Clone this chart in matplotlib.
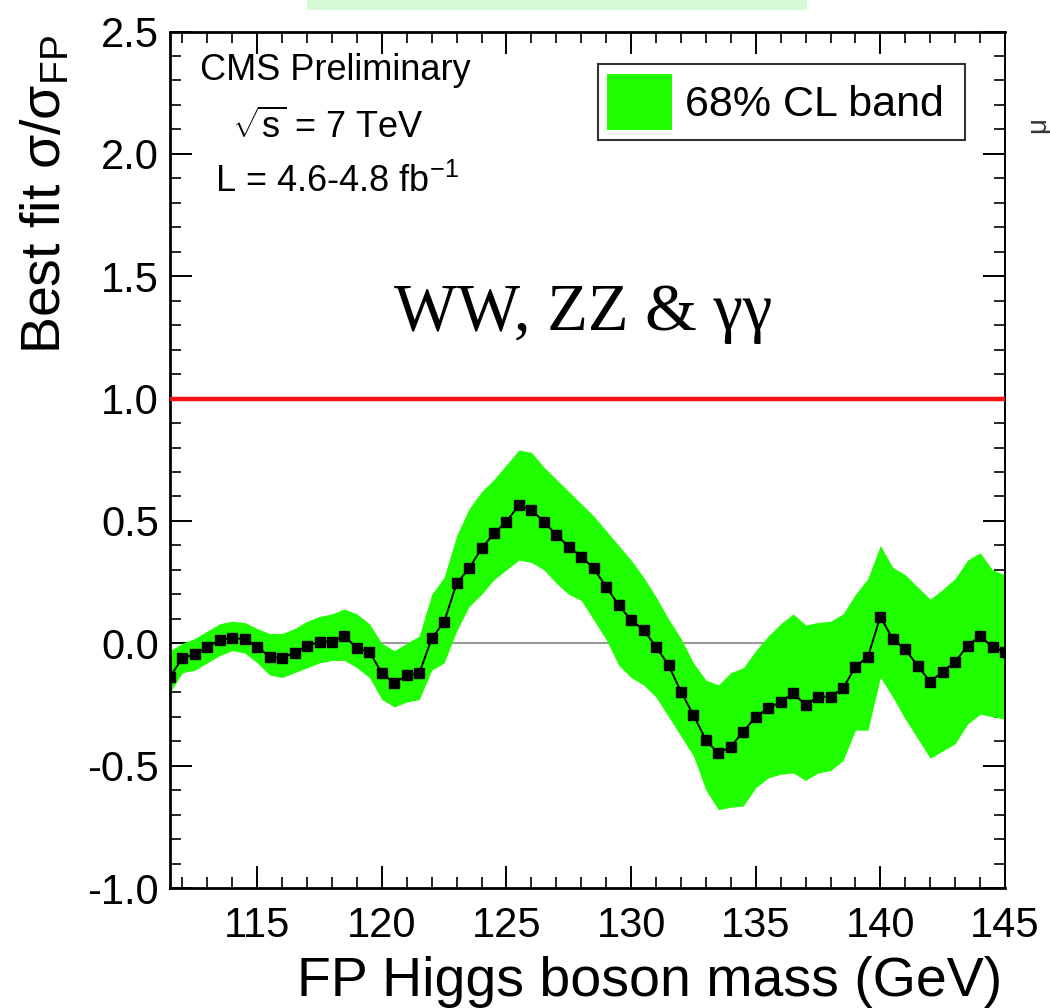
import numpy as np
import matplotlib
matplotlib.use("Agg")
import matplotlib.pyplot as plt
from matplotlib.patches import Patch, Rectangle
from matplotlib.ticker import MultipleLocator, FormatStrFormatter

plt.rcParams['font.family'] = ['Liberation Sans', 'DejaVu Sans']
plt.rcParams['mathtext.fontset'] = 'custom'
plt.rcParams['mathtext.rm'] = 'Liberation Sans'
plt.rcParams['mathtext.it'] = 'Liberation Sans:italic'
plt.rcParams['mathtext.bf'] = 'Liberation Sans:bold'
plt.rcParams['axes.unicode_minus'] = False

# FP Higgs mass points (GeV)
mass = [111.5, 112.0, 112.5, 113.0, 113.5, 114.0, 114.5, 115.0, 115.5, 116.0,
        116.5, 117.0, 117.5, 118.0, 118.5, 119.0, 119.5, 120.0, 120.5, 121.0,
        121.5, 122.0, 122.5, 123.0, 123.5, 124.0, 124.5, 125.0, 125.5, 126.0,
        126.5, 127.0, 127.5, 128.0, 128.5, 129.0, 129.5, 130.0, 130.5, 131.0,
        131.5, 132.0, 132.5, 133.0, 133.5, 134.0, 134.5, 135.0, 135.5, 136.0,
        136.5, 137.0, 137.5, 138.0, 138.5, 139.0, 139.5, 140.0, 140.5, 141.0,
        141.5, 142.0, 142.5, 143.0, 143.5, 144.0, 144.5, 145.0]

# best fit sigma/sigma_FP
best_fit = [-0.136, -0.061, -0.045, -0.014, 0.013, 0.023, 0.016, -0.014, -0.055, -0.059,
            -0.038, -0.011, 0.007, 0.007, 0.030, -0.020, -0.034, -0.123, -0.163, -0.130,
            -0.123, 0.020, 0.088, 0.245, 0.306, 0.388, 0.449, 0.497, 0.565, 0.545,
            0.497, 0.443, 0.395, 0.354, 0.306, 0.231, 0.156, 0.095, 0.054, -0.014,
            -0.089, -0.198, -0.293, -0.395, -0.450, -0.422, -0.361, -0.300, -0.266, -0.239,
            -0.204, -0.252, -0.218, -0.218, -0.184, -0.096, -0.055, 0.109, 0.016, -0.024,
            -0.093, -0.157, -0.116, -0.075, -0.011, 0.030, -0.016, -0.034]

# 68% CL band edges
band_hi = [-0.03, 0.00, 0.02, 0.05, 0.08, 0.09, 0.085, 0.06, 0.04, 0.04,
           0.06, 0.09, 0.11, 0.12, 0.14, 0.12, 0.08, 0.00, -0.03, 0.00,
           0.03, 0.20, 0.27, 0.44, 0.55, 0.62, 0.67, 0.73, 0.79, 0.78,
           0.72, 0.67, 0.62, 0.57, 0.52, 0.46, 0.40, 0.34, 0.27, 0.19,
           0.10, 0.02, -0.08, -0.15, -0.17, -0.12, -0.10, -0.03, 0.03, 0.08,
           0.12, 0.075, 0.085, 0.09, 0.12, 0.20, 0.265, 0.40, 0.31, 0.28,
           0.23, 0.18, 0.22, 0.265, 0.34, 0.37, 0.30, 0.28]
band_lo = [-0.20, -0.12, -0.11, -0.08, -0.05, -0.03, -0.04, -0.08, -0.13, -0.14,
           -0.12, -0.10, -0.08, -0.07, -0.07, -0.10, -0.14, -0.23, -0.26, -0.24,
           -0.23, -0.11, -0.08, 0.05, 0.15, 0.20, 0.26, 0.30, 0.34, 0.33,
           0.30, 0.245, 0.20, 0.175, 0.095, 0.015, -0.09, -0.14, -0.17, -0.22,
           -0.30, -0.38, -0.46, -0.60, -0.68, -0.67, -0.665, -0.59, -0.55, -0.535,
           -0.53, -0.56, -0.53, -0.52, -0.48, -0.355, -0.355, -0.14, -0.22, -0.31,
           -0.39, -0.47, -0.44, -0.41, -0.33, -0.29, -0.30, -0.31]

band_color = '#20ff00'

fig = plt.figure(figsize=(10.5, 10.08), dpi=100)
ax = fig.add_axes([170 / 1050, 120 / 1008, 835 / 1050, 856.5 / 1008])

# reference lines
ax.axhline(0.0, color='#999999', lw=1.5, zorder=1)
ax.axhline(1.0, color='#ff1010', lw=3.2, zorder=4)

# band + best fit
ax.fill_between(mass, band_lo, band_hi, color=band_color, lw=0, zorder=2)
ax.plot(mass, best_fit, color='black', lw=1.4, marker='s', ms=7.5, zorder=3)

ax.set_xlim(111.5, 145)
ax.set_ylim(-1.0, 2.5)

ax.xaxis.set_major_locator(MultipleLocator(5))
ax.xaxis.set_minor_locator(MultipleLocator(1))
ax.yaxis.set_major_locator(MultipleLocator(0.5))
ax.yaxis.set_minor_locator(MultipleLocator(0.1))
ax.yaxis.set_major_formatter(FormatStrFormatter('%.1f'))

ax.tick_params(which='both', direction='in', top=True, right=True, labelsize=30)
ax.tick_params(which='major', length=16, width=1.4)
ax.tick_params(which='minor', length=8, width=1.2)
ax.tick_params(axis='x', which='major', pad=13)
ax.tick_params(axis='y', which='major', pad=8)
for sp in ax.spines.values():
    sp.set_linewidth(2.0)
ax.spines['right'].set_linewidth(1.4)

ax.set_xlabel('FP Higgs boson mass (GeV)', fontsize=40, loc='right')
ax.xaxis.set_label_coords(0.9964, -0.079)
ax.set_ylabel(r'Best fit σ/σ$_{\mathrm{FP}}$', fontsize=40, loc='top')
ax.yaxis.set_label_coords(-0.117, 0.996)

# legend (trailing space widens the box like the ROOT pave)
leg = ax.legend(handles=[Patch(facecolor=band_color, edgecolor='none', label='68% CL band ')],
                loc='upper right', bbox_to_anchor=(0.952, 0.962), borderaxespad=0,
                fontsize=31, frameon=True, fancybox=False, borderpad=0.22,
                handlelength=1.5, handleheight=1.65, handletextpad=0.3)
leg.get_frame().set_edgecolor('black')
leg.get_frame().set_linewidth(1.5)

# annotations
ax.text(0.1976, 0.9434, 'CMS Preliminary', transform=ax.transAxes,
        ha='center', va='baseline', fontsize=26)
ax.text(0.189, 0.8757, r'$\sqrt{\mathrm{s}}$ = 7 TeV', transform=ax.transAxes,
        ha='center', va='baseline', fontsize=26)
ax.text(0.2, 0.8126, r'L = 4.6-4.8 fb$^{\mathrm{-1}}$', transform=ax.transAxes,
        ha='center', va='baseline', fontsize=26)
ax.text(0.4946, 0.6515, 'WW, ZZ & γγ', transform=ax.transAxes,
        ha='center', va='baseline', fontsize=48,
        family=['Liberation Serif', 'DejaVu Serif'])

# bits of neighbouring panels cut into the picture
fig.patches.append(Rectangle((307 / 1050, 998 / 1008), 500 / 1050, 10 / 1008,
                             transform=fig.transFigure, facecolor='#d6fad6',
                             edgecolor='none'))
fig.text(1038 / 1050, 1 - 125 / 1008, 'μ', rotation=90, fontsize=20,
         ha='center', va='center', color='#333333')

plt.savefig('out.png', dpi=100)
